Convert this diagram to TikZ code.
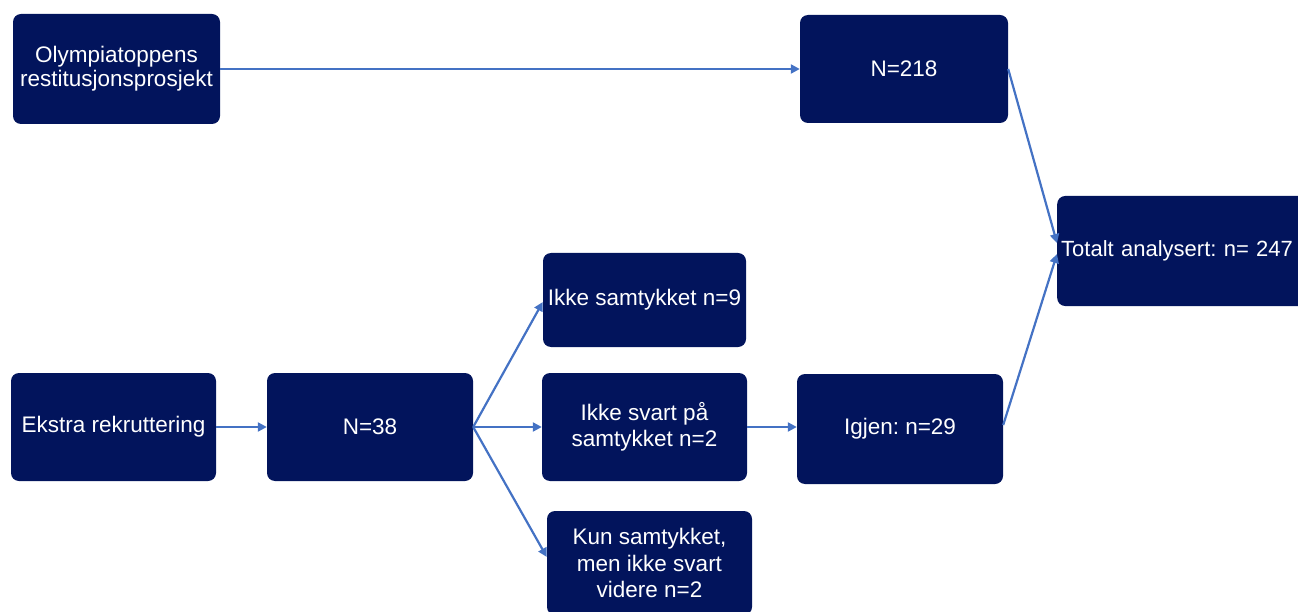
\documentclass[tikz,border=0pt]{standalone}
\usepackage{fontspec}
\setmainfont{Liberation Sans}
\usetikzlibrary{arrows.meta}
\definecolor{boxnavy}{RGB}{2,20,92}
\definecolor{arrowblue}{RGB}{68,114,196}
\frenchspacing
\begin{document}
\frenchspacing
\begin{tikzpicture}[x=1pt,y=-1pt,
  box/.style={fill=boxnavy, rounded corners=8pt, text=white,
    font=\fontsize{22.5}{26.5}\selectfont, minimum width=206pt,
    minimum height=108pt, inner sep=0pt, align=center},
  conn/.style={draw=arrowblue, line width=2.2pt, -{Triangle[length=9pt,width=9pt]}}]
\useasboundingbox (0,0) rectangle (1298,612);
\clip (0,0) rectangle (1298,612);
\node[box, minimum width=207pt, minimum height=110pt, font=\fontsize{22.5}{24}\selectfont] (olymp) at (116.5,69) {Olympiatoppens\\restitusjonsprosjekt};
\node[box, minimum width=208pt, minimum height=108pt] (n218) at (904,69) {N=218};
\node[box, anchor=west, text width=250pt, inner xsep=4pt, align=left, minimum height=110pt, font=\fontsize{22}{26}\selectfont] (tot) at (1057,251) {Totalt analysert: n= 247};
\node[box, minimum width=203pt, minimum height=94pt] (nsam) at (644.5,300) {Ikke samtykket n=9};
\node[box, minimum width=205pt, minimum height=108pt] (ekstra) at (113.5,427) {Ekstra rekruttering};
\node[box, minimum width=206pt, minimum height=108pt] (n38) at (370,427) {N=38};
\node[box, minimum width=205pt, minimum height=108pt] (nsvar) at (644.5,427) {Ikke svart på\\samtykket n=2};
\node[box, minimum width=206pt, minimum height=110pt] (igjen) at (900,429) {Igjen: n=29};
\node[box, minimum width=205pt, minimum height=104pt] (kun) at (649.5,563) {Kun samtykket,\\men ikke svart\\videre n=2};
\draw[conn] (olymp.east) -- (n218.west);
\draw[conn] (n218.east) -- ([yshift=8pt]tot.west);
\draw[conn] ([yshift=4pt]igjen.east) -- ([yshift=-3pt]tot.west);
\draw[conn] (ekstra.east) -- (n38.west);
\draw[conn] (n38.east) -- ([yshift=-2pt]nsam.west);
\draw[conn] (n38.east) -- (nsvar.west);
\draw[conn] (n38.east) -- ([yshift=6pt]kun.west);
\draw[conn] (nsvar.east) -- ([yshift=2pt]igjen.west);
\end{tikzpicture}
\end{document}
